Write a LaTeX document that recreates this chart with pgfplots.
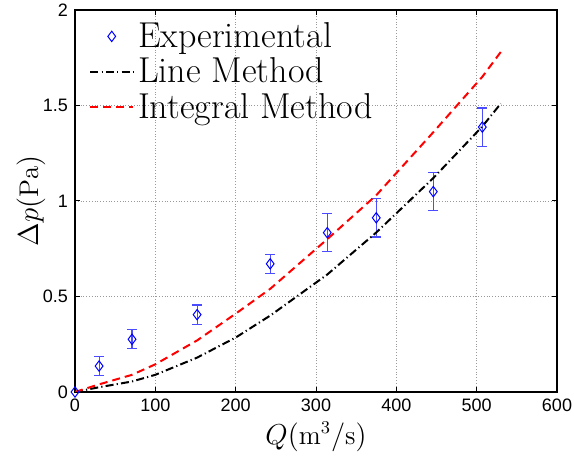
\documentclass[border=0pt]{standalone}
\usepackage{fontspec}
\setsansfont{Liberation Sans}
\usepackage{pgfplots}
\pgfplotsset{compat=1.18}
\begin{document}
\begin{tikzpicture}
\begin{axis}[
  scale only axis,
  width=241pt, height=191pt,
  xmin=0, xmax=600, ymin=0, ymax=2,
  xtick={0,100,...,600}, ytick={0,0.5,1,1.5,2},
  grid=major,
  major grid style={densely dotted, gray!80, line width=0.4pt},
  tick align=inside,
  major tick length=2.5pt,
  axis line style={line width=0.6pt},
  every tick/.style={black, line width=0.5pt},
  /pgf/number format/assume math mode=true,
  ticklabel style={font=\fontsize{9}{10}\selectfont\sffamily},
  label style={font=\fontsize{13.5}{15}\selectfont},
  xlabel={$Q(\mathrm{m}^3/\mathrm{s})$},
  ylabel={$\Delta p(\mathrm{Pa})$},
  xlabel style={at={(axis description cs:0.5,0)}, anchor=center, yshift=-22.5pt},
  ylabel style={at={(axis description cs:0,0.5)}, anchor=center, yshift=22pt},
  legend cell align=left,
  legend style={at={(axis description cs:0,1)}, anchor=north west, xshift=5pt, yshift=-2pt, draw=none, fill=none,
    font=\fontsize{18}{20}\selectfont,
    row sep=-0.3pt, inner sep=2pt},
  legend image code/.code={\draw[mark repeat=2, mark phase=2, #1] plot coordinates {(0cm,0cm) (0.375cm,0cm) (0.75cm,0cm)};},
]
\coordinate (bl) at (rel axis cs:0,0);
\coordinate (tr) at (rel axis cs:1,1);
\addplot[only marks, mark=diamond, mark size=2.6pt, blue, mark options={line width=0.5pt},
  error bars/.cd, y dir=both, y explicit,
  error bar style={line width=0.6pt, color=blue!70},
  error mark options={rotate=90, mark size=2.4pt, line width=0.6pt, color=blue!70}]
  table[x=x, y=y, y error=e] {
x y e
0 0 0
30 0.136 0.05
71 0.276 0.05
152 0.405 0.05
243 0.671 0.05
314 0.834 0.1
375 0.912 0.1
446 1.049 0.1
507 1.387 0.1
};
\addlegendentry{Experimental}
\addplot[black, line width=1pt, dash pattern=on 4pt off 1.6pt on 0.6pt off 1.6pt] coordinates {
(0,0) (30,0.025) (71,0.055) (100,0.09) (152,0.18) (200,0.285) (243,0.40) (314,0.615) (375,0.835) (446,1.12) (507,1.39) (530,1.51)
};
\addlegendentry{Line Method}
\addplot[red, line width=1pt, dash pattern=on 4pt off 2.5pt] coordinates {
(0,0) (30,0.04) (71,0.09) (100,0.145) (152,0.27) (200,0.41) (243,0.54) (314,0.80) (375,1.03) (446,1.36) (507,1.65) (530,1.78)
};
\addlegendentry{Integral Method}
\end{axis}
\pgfresetboundingbox
\path ([shift={(-37.5pt,-35pt)}]bl) rectangle ([shift={(8.5pt,5pt)}]tr);
\end{tikzpicture}
\end{document}
